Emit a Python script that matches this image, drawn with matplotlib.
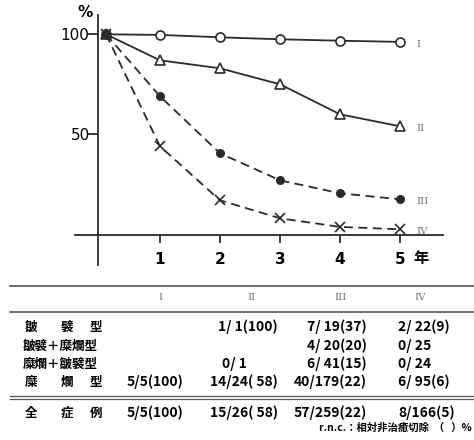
import matplotlib
matplotlib.use("Agg")
import matplotlib.pyplot as plt
import numpy as np

plt.rcParams['font.family'] = ['Noto Sans CJK JP', 'DejaVu Sans']

# ---- data ----
years = [0.1, 1, 2, 3, 4, 5]
stage_I = [100, 99.7, 98.5, 97.5, 96.8, 96.2]
stage_II = [100, 87, 83, 75, 60, 54]
stage_III = [100, 69, 40.5, 27, 20.5, 17.5]
stage_IV = [100, 44, 17, 8, 3.7, 2.5]
series_names = ['I', 'II', 'III', 'IV']
xtick_vals = [1, 2, 3, 4, 5]
ytick_vals = [50, 100]

col_headers = ['I', 'II', 'III', 'IV']
row_labels = ['皺襞型', '皺襞+糜爛型', '糜爛+皺襞型', '糜爛型']
col_I = ['', '', '', '5/5(100)']
col_II = ['1/ 1(100)', '', '0/ 1', '14/24( 58)']
col_III = ['7/ 19(37)', '4/ 20(20)', '6/ 41(15)', '40/179(22)']
col_IV = ['2/ 22(9)', '0/ 25', '0/ 24', '6/ 95(6)']
total_label = '全症例'
total_vals = ['5/5(100)', '15/26( 58)', '57/259(22)', '8/166(5)']
footnote = 'r.n.c.：相対非治癒切除  （   ）%'

W, H = 474, 440
fig = plt.figure(figsize=(W / 100, H / 100), dpi=100)

def fx(px):
    return px / W

def fy(py):
    return 1 - py / H

# ---- chart ----
ax = fig.add_axes([fx(75), fy(265), fx(443) - fx(75), fy(15) - fy(265)])
ax.set_xlim(-0.4167, 5.717)
ax.set_ylim(-15.35, 109.65)
ink = '#2a2a2a'
ax.plot(years, stage_I, '-', color=ink, lw=1.3, marker='o', ms=6.5,
        mfc='white', mec=ink, mew=1.2)
ax.plot(years, stage_II, '-', color=ink, lw=1.3, marker='^', ms=7.5,
        mfc='white', mec=ink, mew=1.2)
ax.plot(years, stage_III, '--', color=ink, lw=1.3, marker='o', ms=5.5,
        mfc=ink, mec=ink, dashes=(5, 3))
ax.plot(years, stage_IV, '--', color=ink, lw=1.3, marker='x', ms=6.5,
        mec=ink, mew=1.2, dashes=(5, 3))

for name, ys in zip(series_names, [stage_I, stage_II, stage_III, stage_IV]):
    ax.text(5.28, ys[-1] - 1.2, name, ha='left', va='center', fontsize=7.5,
            color='#777777', family='DejaVu Serif')

for s in ['top', 'right']:
    ax.spines[s].set_visible(False)
ax.spines['left'].set_position(('data', -0.033))
ax.spines['bottom'].set_position(('data', -0.35))
for s in ['left', 'bottom']:
    ax.spines[s].set_linewidth(1.3)
    ax.spines[s].set_color(ink)

ax.set_yticks(ytick_vals)
ax.set_yticklabels([str(v) for v in ytick_vals], fontsize=11,
                   family='Liberation Sans Narrow')
ax.tick_params(axis='y', direction='out', length=7, width=1.3, color=ink, pad=-1)
ax.set_xticks(xtick_vals)
ax.set_xticklabels([str(v) for v in xtick_vals], fontsize=11, fontweight='bold',
                   family='DejaVu Sans')
ax.tick_params(axis='x', direction='out', length=6, width=1.3, color=ink, pad=6)
ax.text(5.22, -11.6, '年', ha='left', va='center', fontsize=11, fontweight='bold',
        clip_on=False)
ax.text(-0.25, 111, '%', ha='center', va='center', fontsize=11, fontweight='bold',
        family='DejaVu Sans', clip_on=False)

# ---- table ----
line_col = '#555555'
def hline(py, lw=1.2):
    fig.add_artist(plt.Line2D([fx(10), fx(474)], [fy(py), fy(py)],
                              color=line_col, lw=lw))

hline(286)
hline(312)
hline(396, 0.9)
hline(398.5, 0.9)

head_x = [161, 252, 341, 420]
for hx, h in zip(head_x, col_headers):
    fig.text(fx(hx), fy(298), h, ha='center', va='center', fontsize=7.5,
             color='#777777', family='DejaVu Serif')

row_y = [327, 346, 364, 382]
tfs = 9
tw = 'bold'

def row_label(label, py):
    chars = list(label)
    if len(chars) == 3:
        xs = [25, 61, 90]
        for c, xx in zip(chars, xs):
            fig.text(fx(xx), fy(py), c, ha='left', va='center',
                     fontsize=tfs, fontweight=tw)
    else:
        fig.text(fx(23), fy(py), label.replace('+', '＋'), ha='left', va='center',
                 fontsize=tfs, fontweight=tw)

num_family = ['Liberation Sans Narrow', 'Noto Sans CJK JP']

def cell(text, px, py, ha):
    if text:
        fig.text(fx(px), fy(py), text, ha=ha, va='center', fontsize=10,
                 fontweight='bold', family=num_family)

for i, py in enumerate(row_y):
    row_label(row_labels[i], py)
    cell(col_I[i], 183, py, 'right')
    if '(' in col_II[i]:
        cell(col_II[i], 278, py, 'right')
    else:
        cell(col_II[i], 222, py, 'left')
    cell(col_III[i], 367, py, 'right')
    cell(col_IV[i], 398, py, 'left')

row_label(total_label, 413)
cell(total_vals[0], 183, 413, 'right')
cell(total_vals[1], 278, 413, 'right')
cell(total_vals[2], 367, 413, 'right')
cell(total_vals[3], 398, 413, 'left')

fig.text(fx(472), fy(428), footnote, ha='right', va='center', fontsize=7.5,
         fontweight='bold')

fig.savefig('out.png', dpi=100)
